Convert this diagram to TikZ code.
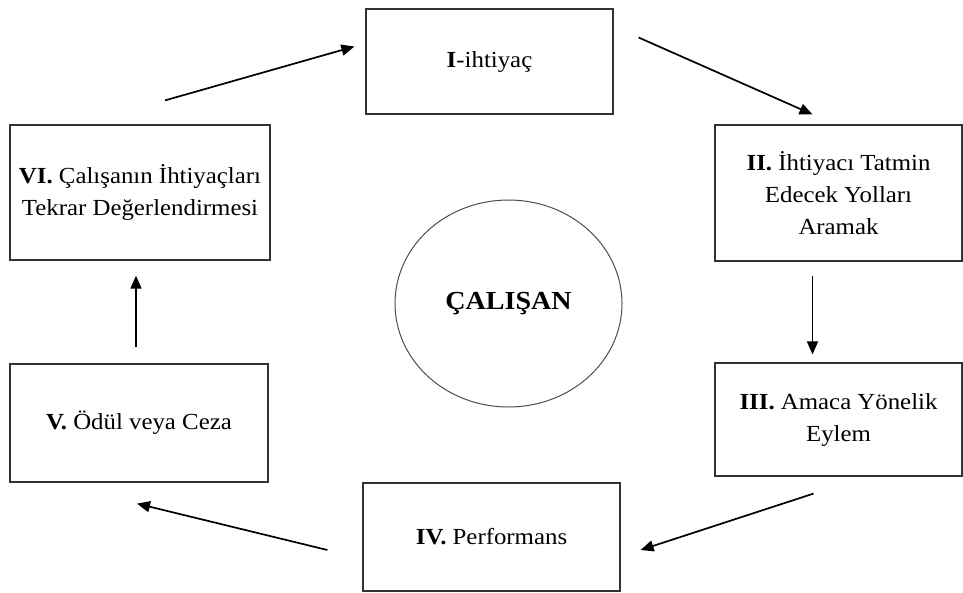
\documentclass[tikz,border=0pt]{standalone}
\usepackage{fontspec}
\setmainfont{Liberation Serif}[FakeStretch=1.08]
\usetikzlibrary{arrows.meta, shapes.geometric}

\begin{document}
\begin{tikzpicture}[x=1pt, y=-1pt, >={Triangle[length=13pt,width=11pt]}]

	\tikzstyle{stage}=[rectangle, draw=black!80, line width=1.2pt, align=center, inner sep=0pt, font=\fontsize{23}{32}\selectfont]
	\tikzstyle{core}=[ellipse, draw=black!70, line width=1pt, inner sep=0pt, minimum width=227pt, minimum height=207pt, font=\fontsize{26}{30}\selectfont\bfseries]
	\tikzstyle{flow}=[->, line width=1.7pt]

	\useasboundingbox (0,0) rectangle (963,592);

	\node at (489.5,61.5) (need) [stage, minimum width=247pt, minimum height=105pt] {\textbf{I}-ihtiyaç};
	\node at (838.5,193) (search) [stage, minimum width=247pt, minimum height=136pt] {\textbf{II.} İhtiyacı Tatmin\\ Edecek Yolları\\ Aramak};
	\node at (838.5,419.5) (action) [stage, minimum width=247pt, minimum height=113pt] {\textbf{III.} Amaca Yönelik\\ Eylem};
	\node at (491.5,537) (perform) [stage, minimum width=257pt, minimum height=108pt] {\textbf{IV.} Performans};
	\node at (139,423) (reward) [stage, minimum width=258pt, minimum height=118pt] {\textbf{V.} Ödül veya Ceza};
	\node at (140,192.5) (review) [stage, minimum width=260pt, minimum height=135pt] {\textbf{VI.} Çalışanın İhtiyaçları\\ Tekrar Değerlendirmesi};

	\node at (508.5,303.5) (worker) [core] {ÇALIŞAN};

	\draw[flow] ([xshift=25pt,yshift=24pt]review.north) -- ([xshift=-11pt,yshift=15pt]need.west);
	\draw[flow] ([xshift=25pt,yshift=24pt]need.east) -- ([xshift=-26pt,yshift=10pt]search.north);
	\draw[flow] ([xshift=-26pt,yshift=-14pt]search.south) -- ([xshift=-26pt,yshift=8pt]action.north);
	\draw[flow] ([xshift=-25pt,yshift=-17pt]action.south) -- ([xshift=20pt,yshift=-13pt]perform.east);
	\draw[flow] ([xshift=-35pt,yshift=-13pt]perform.west) -- ([xshift=-2pt,yshift=-21pt]reward.south);
	\draw[flow] ([xshift=-3pt,yshift=16pt]reward.north) -- ([xshift=-4pt,yshift=-15pt]review.south);
\end{tikzpicture}
\end{document}
